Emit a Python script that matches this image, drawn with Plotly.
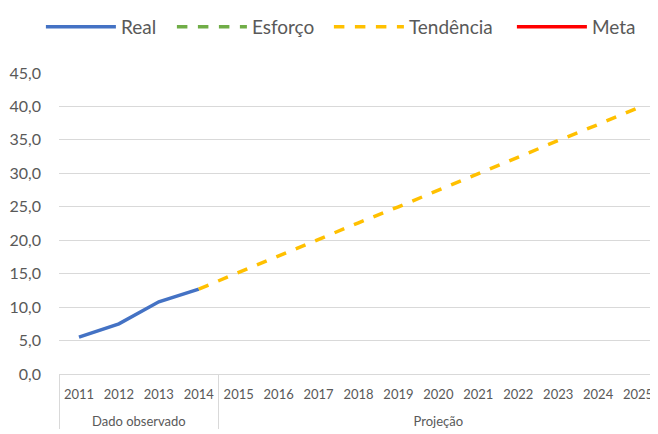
import plotly.graph_objects as go

years = ["2011", "2012", "2013", "2014", "2015", "2016", "2017", "2018",
         "2019", "2020", "2021", "2022", "2023", "2024", "2025"]
groups = ["Dado observado"] * 4 + ["Projeção"] * 11

real_years = ["2011", "2012", "2013", "2014"]
real_vals = [5.5, 7.5, 10.8, 12.7]

trend_years = ["2014", "2015", "2016", "2017", "2018", "2019", "2020",
               "2021", "2022", "2023", "2024", "2025"]
trend_vals = [12.7, 15.2, 17.6, 20.1, 22.6, 25.0, 27.5, 29.9, 32.4, 34.9, 37.3, 39.8]

ytick_vals = [0, 5, 10, 15, 20, 25, 30, 35, 40, 45]

grp = dict(zip(years, groups))

def mc(ys):
    # outer level label pushed one line down, as in the original two-level axis
    return [["<br>" + grp[y] for y in ys], ys]

fig = go.Figure()
fig.add_trace(go.Scatter(x=mc(real_years), y=real_vals, mode="lines", name="Real",
                         legendwidth=46,
                         line=dict(color="#4472C4", width=3.5)))
fig.add_trace(go.Scatter(x=[[None], [None]], y=[None], mode="lines", name="Esforço",
                         legendwidth=72,
                         line=dict(color="#70AD47", width=3.5, dash="dash")))
fig.add_trace(go.Scatter(x=mc(trend_years), y=trend_vals, mode="lines", name="Tendência",
                         legendwidth=98,
                         line=dict(color="#FFC000", width=3.5, dash="dash")))
fig.add_trace(go.Scatter(x=[[None], [None]], y=[None], mode="lines", name="Meta",
                         legendwidth=46,
                         line=dict(color="#FF0000", width=3.5)))

# ensure all categories present
fig.add_trace(go.Scatter(x=mc(years), y=[None] * len(years), mode="lines",
                         showlegend=False, hoverinfo="skip"))

fig.update_layout(
    width=658, height=434,
    margin=dict(l=51, r=8, t=65, b=68, autoexpand=False),
    paper_bgcolor="white", plot_bgcolor="white",
    separators=",.",
    font=dict(family="Lato, Open Sans, sans-serif", color="#595959", size=14),
    showlegend=True,
    legend=dict(orientation="h", x=0.05, xref="container", xanchor="left",
                y=1.0, yref="container", yanchor="top",
                font=dict(size=19, color="#595959"),
                itemwidth=70, tracegroupgap=0),
    xaxis=dict(type="multicategory", showgrid=False, showline=True,
               range=[-0.5, 14.5],
               linecolor="#D9D9D9", linewidth=1, ticks="", tickangle=0,
               showdividers=True, dividercolor="#D9D9D9", dividerwidth=1,
               ticklabelstandoff=8,
               tickfont=dict(size=13, color="#595959"), automargin=False),
    yaxis=dict(range=[0, 45], tickvals=ytick_vals, tickformat=".1f",
               showgrid=True, gridcolor="#D9D9D9", gridwidth=1,
               zeroline=False, showline=False, ticks="",
               tickfont=dict(size=16, color="#595959"), ticklabelstandoff=17,
               automargin=False),
)

fig.write_html("out.html")
